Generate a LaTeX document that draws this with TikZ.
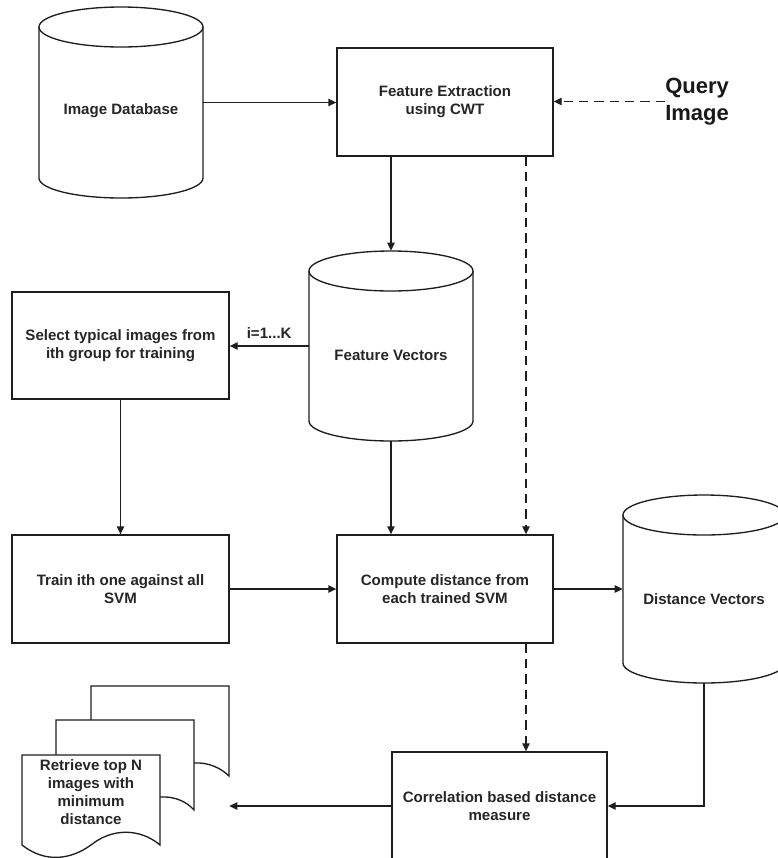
\documentclass[tikz,border=0pt]{standalone}
\usepackage{fontspec}
\setmainfont{Liberation Sans}
\usetikzlibrary{arrows.meta,calc}
\definecolor{ln}{HTML}{1E1E1E}
\definecolor{tx}{HTML}{262626}
\tikzset{
  every node/.style={text=tx,font=\fontsize{11.3pt}{13.6pt}\selectfont\bfseries},
  proc/.style={draw=ln,line width=1pt,fill=white,inner sep=0pt,align=center,
     minimum width=#1*0.75pt},
  ghost/.style={draw=none,inner sep=0pt},
  conn/.style={draw=ln,line width=1pt,-{Triangle[length=6pt,width=5.5pt]}},
  dconn/.style={conn,dash pattern=on 7pt off 4.5pt},
  cylline/.style={draw=ln,line width=1pt,fill=white},
  pageline/.style={draw=ln,line width=1pt,fill=white,line join=miter},
}
\newcommand{\mycyl}[5]{% name, cx, top, bottom, halfwidth ; ry=20
  \draw[cylline] (#2-#5,#3+20) -- (#2-#5,#4-20)
     arc[start angle=180,end angle=0,x radius=#5,y radius=20] -- (#2+#5,#3+20);
  \draw[cylline] (#2,#3+20) ellipse[x radius=#5,y radius=20];
  \node[ghost,minimum width=2*#5*0.75pt,minimum height=(#4-#3)*0.75pt] (#1) at (#2,{(#3+#4)/2}) {};
}
\begin{document}
\begin{tikzpicture}[x=0.75pt,y=-0.75pt]
\useasboundingbox (0,0) rectangle (778,858);
\clip (0,0) rectangle (778,858);
\fill[white] (0,0) rectangle (778,858);

% cylinders
\mycyl{idb}{121}{7}{198}{82}
\node (idbt) at (121,111) {Image Database};
\mycyl{fv}{391}{251}{441}{82}
\node (fvt) at (391,355) {Feature Vectors};
\mycyl{dv}{704}{495}{683}{81}
\node (dvt) at (704,599) {Distance Vectors};

% process boxes
\node[proc=216,minimum height=81pt] (fe) at (445,102) {Feature Extraction\\using CWT};
\node[proc=217,minimum height=80.25pt] (sel) at (120.5,345.5) {Select typical images from\\ith group for training};
\node[proc=217,minimum height=81pt] (train) at (120.5,589) {Train ith one against all\\SVM};
\node[proc=216,minimum height=81pt] (comp) at (445,589) {Compute distance from\\each trained SVM};
\node[proc=215,minimum height=81pt] (corr) at (499.5,806) {Correlation based distance\\measure};

% query image
\node[anchor=west,align=left,inner sep=0pt,font=\fontsize{16.5pt}{20.2pt}\selectfont\bfseries,text=black!90] (qi) at (665,101.5) {Query\\Image};

% document stack
\path[pageline] (91,686) -- (229,686) -- (229,776)
   .. controls (221,768) and (208,762) .. (194,763) -- (91,763) -- cycle;
\path[pageline] (56,720) -- (194,720) -- (194,810)
   .. controls (187,802) and (175,796) .. (160,797) -- (56,797) -- cycle;
\path[pageline] (22,755) -- (160,755) -- (160,845)
   .. controls (140,828) and (112,828) .. (91,845)
   .. controls (70,860) and (45,863) .. (22,845) -- cycle;
\node[ghost,minimum width=155.25pt,minimum height=128.25pt] (docs) at (125.5,771.5) {};
\node[align=center,inner sep=0pt] (doct) at (91,792) {Retrieve top N\\images with\\minimum\\distance};

% connectors
\coordinate (qx) at (526,0);
\draw[conn] (idb.east) -- (idb.east -| fe.west);
\draw[dconn] (qi.west) -- (qi.west -| fe.east);
\draw[conn] (fv.north |- fe.south) -- (fv.north);
\draw[dconn] (qx |- fe.south) -- (qx |- comp.north);
\draw[conn] (fv.west) -- node[above=5pt,inner sep=0pt] (lbl) {i=1...K} (fv.west -| sel.east);
\draw[conn] (sel.south) -- (train.north);
\draw[conn] (fv.south) -- (fv.south |- comp.north);
\draw[conn] (train.east) -- (train.east -| comp.west);
\draw[conn] (comp.east) -- (comp.east -| dv.west);
\draw[dconn] (qx |- comp.south) -- (qx |- corr.north);
\draw[conn] (dv.south) |- (corr.east);
\draw[conn] (corr.west) -- (corr.west -| docs.east);
\end{tikzpicture}
\end{document}
